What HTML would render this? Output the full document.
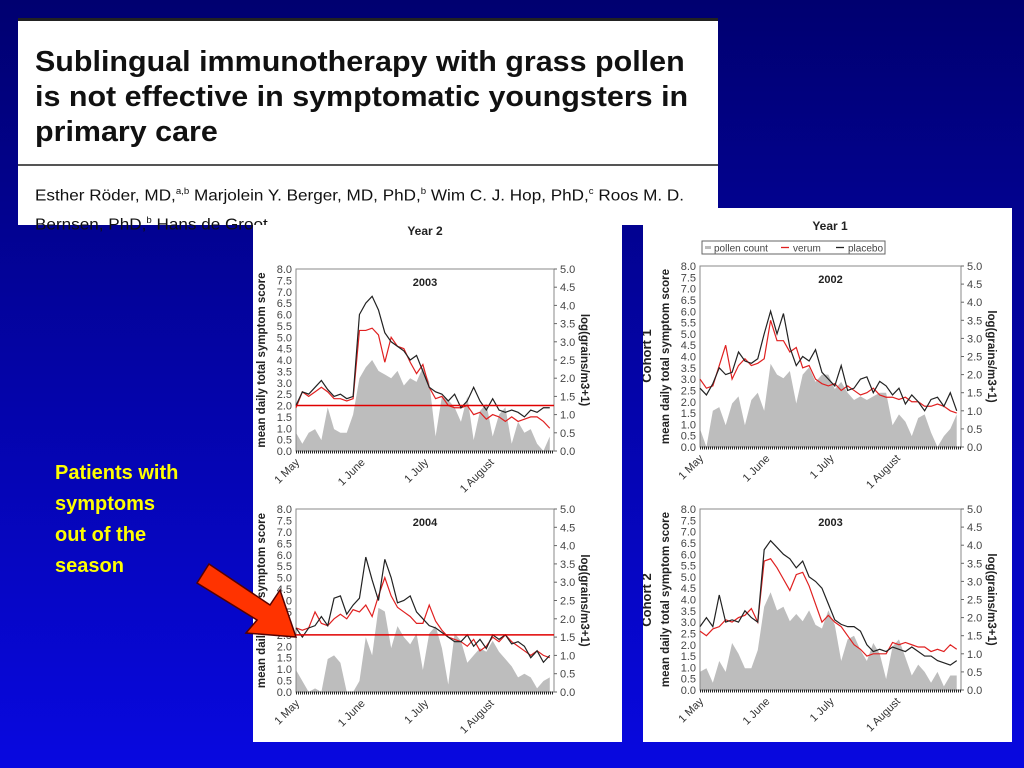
<!DOCTYPE html>
<html><head><meta charset="utf-8">
<style>
body{margin:0;width:1024px;height:768px;overflow:hidden;background:linear-gradient(#000070,#0808e0);font-family:"Liberation Sans",sans-serif;position:relative}
.box{position:absolute;background:#fff}
#article{left:18px;top:18px;width:700px;height:207px;border-top:3px solid #222;box-sizing:border-box}
#title{position:absolute;left:17px;top:24px;font-size:29px;font-weight:bold;line-height:35px;color:#111;white-space:nowrap;transform:scaleX(1.05);transform-origin:0 0}
#rule{position:absolute;left:0;right:0;top:143px;border-top:2px solid #555}
#authors{position:absolute;left:17px;top:158px;font-size:16px;line-height:25px;color:#111;white-space:nowrap;transform:scaleX(1.07);transform-origin:0 0}
#note{position:absolute;left:55px;top:458px;color:#ffff00;font-weight:bold;font-size:20px;line-height:31px}
svg{position:absolute;left:0;top:0}
</style></head><body>
<div class="box" id="article">
<div id="title">Sublingual immunotherapy with grass pollen<br>is not effective in symptomatic youngsters in<br>primary care</div>
<div id="rule"></div>
<div id="authors">Esther Röder, MD,<sup style="font-size:9px">a,b</sup> Marjolein Y. Berger, MD, PhD,<sup style="font-size:9px">b</sup> Wim C. J. Hop, PhD,<sup style="font-size:9px">c</sup> Roos M. D.<br>Bernsen, PhD,<sup style="font-size:9px">b</sup> Hans de Groot</div>
</div>
<div class="box" style="left:253px;top:225px;width:369px;height:517px"></div>
<div class="box" style="left:643px;top:208px;width:369px;height:534px"></div>
<div id="note">Patients with<br>symptoms<br>out of the<br>season</div>
<svg id="chart" width="1024" height="768"><defs><clipPath id="rclip" clipPathUnits="userSpaceOnUse"><rect x="643" y="208" width="369" height="534"/></clipPath></defs></svg>
<script>
// days sampled every 3 days from 1 May (day 0) to day 120
const monthLabels=["1 May","1 June","1 July","1 August"];
const monthDays=[0,31,61,92];
const yTicks=["0.0","0.5","1.0","1.5","2.0","2.5","3.0","3.5","4.0","4.5","5.0","5.5","6.0","6.5","7.0","7.5","8.0"];
const y2Ticks=["0.0","0.5","1.0","1.5","2.0","2.5","3.0","3.5","4.0","4.5","5.0"];

const lt_placebo=[2.0,2.6,2.5,2.8,3.1,2.7,2.4,2.5,2.3,2.4,6.0,6.5,6.8,6.2,5.2,4.8,4.6,4.4,4.0,4.2,3.5,2.8,2.6,2.5,2.2,2.5,1.9,2.2,2.8,2.2,1.8,2.3,1.8,1.7,1.8,1.7,1.5,1.8,1.7,1.9,1.9];
const lt_verum=[1.9,2.6,2.4,2.6,2.8,2.6,2.3,2.3,2.2,2.3,5.3,5.3,5.4,5.1,3.9,5.0,4.6,4.5,3.9,3.4,3.8,2.8,2.3,2.4,2.0,1.9,1.9,2.0,1.6,1.7,1.4,1.6,1.5,1.3,1.5,1.3,1.4,1.5,1.5,1.3,1.0];
const lt_pollen=[0.5,0.2,0.5,0.6,0.3,1.2,0.6,0.5,0.5,1.0,2.0,2.3,2.5,2.2,2.1,2.0,2.2,1.8,2.0,1.9,2.3,1.9,0.4,1.5,1.4,1.2,0.8,1.5,0.3,1.1,1.3,0.4,1.0,1.2,0.2,0.8,0.5,0.6,0.2,0.0,0.4];

const lb_placebo=[2.8,2.4,2.8,2.9,3.3,2.9,4.1,4.2,3.4,3.8,4.1,5.9,4.9,4.0,5.8,5.0,3.9,4.0,4.2,3.5,3.2,2.9,2.8,2.6,2.4,2.2,2.2,2.5,2.0,2.3,1.9,2.5,2.3,2.5,2.1,2.2,2.0,1.5,1.8,1.3,1.6];
const lb_verum=[2.8,2.7,2.8,3.5,3.0,2.9,3.2,3.4,3.2,3.6,3.5,3.8,3.3,4.2,5.0,4.2,3.7,3.5,3.3,3.0,3.0,3.8,3.1,2.7,2.4,2.3,2.2,2.0,2.3,1.8,2.0,2.4,2.2,2.5,2.2,2.0,1.8,1.6,1.8,1.6,1.5];
const lb_pollen=[0.6,0.3,0.0,0.1,0.0,0.9,1.0,0.8,0.0,0.0,0.3,1.5,1.0,2.3,2.2,1.2,1.8,1.5,1.3,1.6,0.6,1.6,1.8,1.2,0.2,1.6,1.4,0.8,1.0,1.2,1.1,1.4,1.1,0.9,0.7,0.4,0.5,0.4,0.1,0.3,0.4];

const rt_placebo=[2.6,2.3,2.8,3.5,3.2,3.3,4.2,3.8,3.7,3.9,5.0,6.0,5.0,5.9,4.4,3.6,4.0,3.8,4.3,3.3,3.0,2.7,3.6,2.5,2.6,3.0,3.1,2.4,2.9,2.7,2.3,2.6,1.9,2.3,2.0,1.6,2.1,2.2,1.8,2.4,1.6];
const rt_verum=[3.0,2.6,2.7,3.6,4.5,3.0,3.6,3.9,3.6,3.7,3.9,5.6,4.7,4.7,4.2,4.4,3.5,3.6,3.0,2.8,2.7,2.8,2.5,2.7,2.5,2.3,2.4,2.6,2.3,2.2,2.2,2.1,2.2,2.0,2.0,1.8,1.8,1.9,1.8,1.6,1.5];
const rt_pollen=[0.5,0.0,1.0,1.1,0.6,1.2,1.4,0.6,1.3,1.5,1.0,2.3,2.0,1.9,2.1,1.2,2.0,2.2,1.8,2.0,2.0,1.6,1.8,1.5,1.3,1.4,1.3,1.4,1.5,1.5,0.6,0.9,0.7,0.3,0.8,0.9,0.4,0.0,0.3,0.5,0.9];

const rb_placebo=[2.8,3.2,2.8,4.2,3.0,3.1,3.0,3.5,3.2,3.0,6.2,6.6,6.3,6.0,5.8,5.4,5.7,5.0,4.8,4.5,3.8,3.1,2.9,2.8,2.8,2.6,2.0,1.7,1.8,1.7,1.9,1.8,1.7,1.9,1.7,1.5,1.5,1.3,1.2,1.1,1.3];
const rb_verum=[2.6,2.4,2.7,2.8,3.1,3.0,3.2,3.3,3.6,3.0,5.7,5.8,5.4,4.9,4.4,5.1,5.2,4.6,3.8,3.0,3.3,3.0,2.8,2.4,2.0,1.8,1.5,1.6,1.6,1.6,2.1,2.0,2.1,2.0,1.9,1.9,1.7,1.8,1.7,2.0,1.8];
const rb_pollen=[0.5,0.6,0.2,0.8,0.5,1.3,1.0,0.6,0.6,1.1,2.3,2.7,2.2,2.3,1.9,2.1,1.9,2.2,1.8,1.7,2.2,1.8,0.8,1.4,1.5,1.1,0.8,1.3,1.0,0.3,1.2,1.4,0.9,0.4,0.7,0.5,0.2,0.5,0.1,0.4,0.4];

const NS="http://www.w3.org/2000/svg";
const svg=document.getElementById('chart');
function mk(tag,attrs,parent){const e=document.createElementNS(NS,tag);for(const k in attrs)e.setAttribute(k,attrs[k]);(parent||svg).appendChild(e);return e;}
function txt(x,y,s,attrs,parent){const t=mk('text',Object.assign({x:x,y:y,'font-family':'Liberation Sans, sans-serif'},attrs),parent);t.textContent=s;return t;}

function panel(id,x0,x1,yT,yB,year,pollen,verum,placebo,refLine){
  const g=mk('g',{});
  
  
  const xs=d=>x0+(x1-x0)*d/122;
  const ys=v=>yB-(yB-yT)*v/8;
  const ys2=v=>yB-(yB-yT)*v/5;
  const step=3;
  let d='M'+xs(0)+','+yB;
  pollen.forEach((v,i)=>{d+=' L'+xs(i*step)+','+ys2(v);});
  d+=' L'+xs((pollen.length-1)*step)+','+yB+' Z';
  const area=mk('path',{d:d,fill:'#bdbdbd',stroke:'none'},g);
  
  
  const fr=mk('rect',{x:x0,y:yT,width:x1-x0,height:yB-yT,fill:'none',stroke:'#888','stroke-width':1},g);
  
  
  const tk=mk('line',{x1:x0,y1:yB+1,x2:x1,y2:yB+1,stroke:'#222','stroke-width':3,'stroke-dasharray':'1 1'},g);
  
  
  yTicks.forEach((s,i)=>{
    const t=txt(x0-4,ys(i*0.5)+4,s,{'font-size':11,'text-anchor':'end',fill:'#444'},g);
    
    
  });
  y2Ticks.forEach((s,i)=>{
    mk('line',{x1:x1,y1:ys2(i*0.5),x2:x1+3,y2:ys2(i*0.5),stroke:'#666'},g);
    const t=txt(x1+6,ys2(i*0.5)+4,s,{'font-size':11,fill:'#444'},g);
    
    
  });
  monthLabels.forEach((s,i)=>{
    const x=xs(monthDays[i]);
    const t=txt(x+4,yB+12,s,{'font-size':11,'text-anchor':'end',fill:'#333',transform:'rotate(-45 '+(x+4)+' '+(yB+12)+')'},g);
    
    
  });
  const yt=txt(0,0,'mean daily total symptom score',{'font-size':11.5,'font-weight':'bold','text-anchor':'middle',fill:'#222',transform:'translate('+(x0-31)+','+((yT+yB)/2)+') rotate(-90)'},g);
  
  
  const yt2=txt(0,0,'log(grains/m3+1)',{'font-size':11.5,'font-weight':'bold','text-anchor':'middle',fill:'#222',transform:'translate('+(x1+27)+','+((yT+yB)/2)+') rotate(90)'},g);
  
  
  const pt=txt((x0+x1)/2,yT+17,year,{'font-size':11,'font-weight':'bold','text-anchor':'middle',fill:'#222'},g);
  
  
  function line(arr,color,name){
    const p=mk('polyline',{points:arr.map((v,i)=>xs(i*step)+','+ys(v)).join(' '),fill:'none',stroke:color,'stroke-width':1.2},g);
    
    
  }
  line(verum,'#e02020','verum-line');
  line(placebo,'#222','placebo-line');
  if(refLine!=null){
    const r=mk('line',{x1:x0,y1:ys(refLine),x2:x1,y2:ys(refLine),stroke:'#e00000','stroke-width':1.5},g);
    
    
  }
}
panel('year2-2003',296,554,269,451,'2003',lt_pollen,lt_verum,lt_placebo,2.0);
panel('year2-2004',296,554,509,692,'2004',lb_pollen,lb_verum,lb_placebo,2.5);
panel('year1-2002',700,961,266,447,'2002',rt_pollen,rt_verum,rt_placebo,null);
panel('year1-2003',700,961,509,690,'2003',rb_pollen,rb_verum,rb_placebo,null);

let t;
t=txt(425,235,'Year 2',{'font-size':12,'font-weight':'bold','text-anchor':'middle',fill:'#222'});


t=txt(830,230,'Year 1',{'font-size':12,'font-weight':'bold','text-anchor':'middle',fill:'#222'});


const cg=mk('g',{'clip-path':'url(#rclip)'});


t=txt(0,0,'Cohort 1',{'font-size':13,'font-weight':'bold','text-anchor':'middle',fill:'#222',transform:'translate(651,356) rotate(-90)'},cg);


t=txt(0,0,'Cohort 2',{'font-size':13,'font-weight':'bold','text-anchor':'middle',fill:'#222',transform:'translate(651,600) rotate(-90)'},cg);


const lg=mk('g',{});


mk('rect',{x:702,y:241,width:183,height:13,fill:'#fff',stroke:'#666'},lg);
mk('line',{x1:705,y1:247.5,x2:711,y2:247.5,stroke:'#bbb','stroke-width':3},lg);
txt(714,251.5,'pollen count',{'font-size':10,fill:'#444'},lg);
mk('line',{x1:781,y1:247.5,x2:789,y2:247.5,stroke:'#e02020','stroke-width':1.3},lg);
txt(793,251.5,'verum',{'font-size':10,fill:'#444'},lg);
mk('line',{x1:836,y1:247.5,x2:844,y2:247.5,stroke:'#222','stroke-width':1.3},lg);
txt(848,251.5,'placebo',{'font-size':10,fill:'#444'},lg);
const ar=mk('polygon',{points:'197,583 209,564 270,605 280,590 296,637 246,633 257,620',fill:'#ff3300',stroke:'#550000','stroke-width':1.5});


</script>
</body></html>
